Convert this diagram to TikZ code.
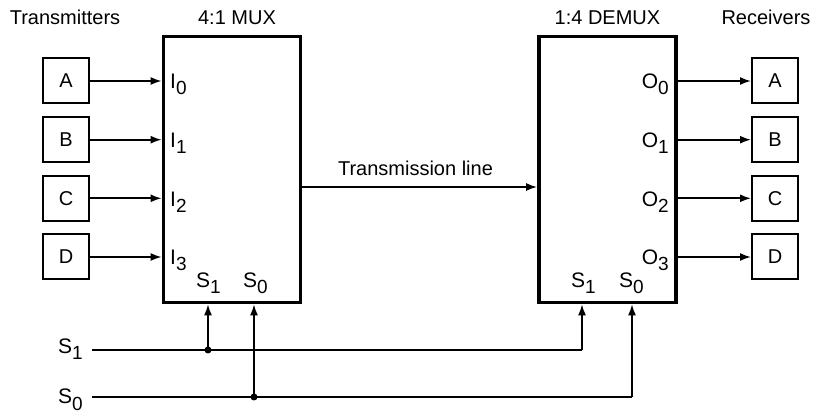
\documentclass[tikz,border=0pt]{standalone}
\usepackage{fontspec}
\setmainfont{Liberation Sans}
\usetikzlibrary{arrows.meta}
\newcommand\lsub[2]{{\fontsize{21}{24}\selectfont #1\raisebox{-6pt}{\fontsize{19}{19}\selectfont #2}}}
\begin{document}
\begin{tikzpicture}[x=1pt,y=-1pt,
  every node/.style={font=\fontsize{20}{24}\selectfont},
  smallbox/.style={draw,line width=2pt,minimum width=46pt,minimum height=45pt,inner sep=0pt},
  bigbox/.style={draw,line width=3.8pt,minimum width=137pt,minimum height=266pt,inner sep=0pt},
  lab/.style={inner sep=0pt},
  arr/.style={line width=1.7pt,-{Latex[length=11pt,width=8pt]}},
  wire/.style={line width=1.5pt},
  warr/.style={line width=1.5pt,-{Latex[length=11pt,width=8pt]}},
  dotm/.style={circle,fill,inner sep=0pt,minimum size=7pt}]
\useasboundingbox (0,0) rectangle (815,414);
% titles
\node[lab,anchor=base] (tt) at (65,25) {Transmitters};
\node[lab,anchor=base] (tm) at (237,25) {4:1 MUX};
\node[lab,anchor=base] (td) at (607.5,25) {1:4 DEMUX};
\node[lab,anchor=base] (tr) at (766,25) {Receivers};
% big boxes
\node[bigbox] (mux) at (232,169.5) {};
\node[bigbox] (demux) at (607.5,169.5) {};
% transmitters and receivers
\foreach \n/\t/\y in {a/A/81,b/B/139.7,c/C/198.3,d/D/257}{
  \node[smallbox] (t\n) at (66,\y) {\t};
  \node[smallbox] (r\n) at (775,\y) {\t};
  \draw[arr] (t\n.east) -- (t\n.east -| mux.west);
  \draw[arr] (r\n.west -| demux.east) -- (r\n.west);
}
% input/output labels
\foreach \k/\y in {0/89,1/147.7,2/206.3,3/265}{
  \node[lab,anchor=base west] (i\k) at (170,\y) {\lsub{I}{\k}};
  \node[lab,anchor=base east] (o\k) at (669,\y) {\lsub{O}{\k}};
}
% select labels inside boxes
\node[lab,anchor=base west] (ms1) at (196,288) {\lsub{S}{1}};
\node[lab,anchor=base west] (ms0) at (243,288) {\lsub{S}{0}};
\node[lab,anchor=base west] (ds1) at (571,288) {\lsub{S}{1}};
\node[lab,anchor=base west] (ds0) at (619,288) {\lsub{S}{0}};
% transmission line
\draw[arr] (mux.east |- 0,187) coordinate (tl) -- (tl -| demux.west);
\node[lab,anchor=base] (tlab) at (415.5,176) {Transmission line};
% select lines
\node[lab,anchor=base west] (s1) at (58,354) {\lsub{S}{1}};
\node[lab,anchor=base west] (s0) at (58,404) {\lsub{S}{0}};
\coordinate (s1start) at (92,350);
\coordinate (s0start) at (92,397);
\node[dotm] (d1) at (208,350) {};
\node[dotm] (d0) at (254,397) {};
\coordinate (s1end) at (582,350);
\coordinate (s0end) at (632,397);
\draw[wire] (s1start) -- (s1end);
\draw[warr] (s1end) -- (s1end |- demux.south);
\draw[wire] (s0start) -- (s0end);
\draw[warr] (s0end) -- (s0end |- demux.south);
\draw[warr] (d1.center) -- (d1.center |- mux.south);
\draw[warr] (d0.center) -- (d0.center |- mux.south);
\end{tikzpicture}
\end{document}
